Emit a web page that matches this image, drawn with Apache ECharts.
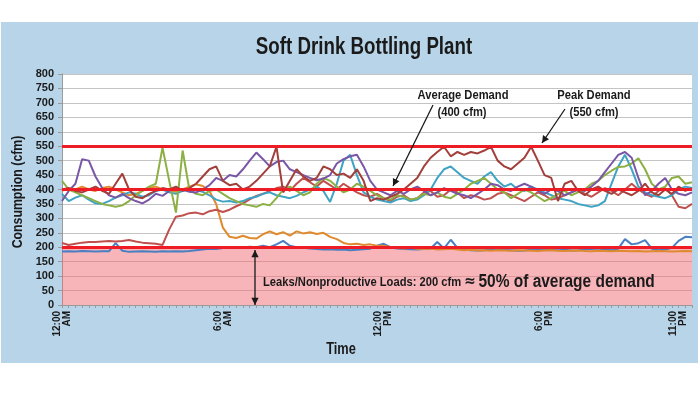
<!DOCTYPE html>
<html><head><meta charset="utf-8">
<script src="https://cdn.jsdelivr.net/npm/echarts@6/dist/echarts.min.js"></script>
<style>html,body{margin:0;padding:0;background:#fff}#c{width:700px;height:394px}</style>
</head><body><div id="c"></div>
<script>
// ---- data (15-minute readings, 12:00 AM .. 11:30 PM) ----
const tickIndex = [0, 24, 48, 72, 92];
const tickText = ['12:00\nAM', '6:00\nAM', '12:00\nPM', '6:00\nPM', '11:00\nPM'];
const yTicks = [0, 50, 100, 150, 200, 250, 300, 350, 400, 450, 500, 550, 600, 650, 700, 750, 800];
const refLevels = [200, 400, 550];

const blueLow = [185,186,185,187,186,185,186,186,214,188,
 184,185,186,185,184,186,185,186,185,187,
 190,192,195,194,197,198,200,198,202,200,
 205,200,210,222,205,200,
 198,196,194,192,193,191,192,190,191,193,195,205,
 212,200,196,194,193,192,194,196,
 218,196,226,198,
 192,190,189,190,192,194,191,190,188,189,191,193,195,192,190,191,189,190,192,194,196,192,190,195,
 228,210,214,225,195,190,192,198,222,236,235];
const orange = [395,405,400,410,400,395,405,410,400,390,
 380,385,395,405,410,400,398,392,400,410,
 418,412,395,350,
 268,236,232,240,232,230,
 245,255,245,252,240,255,248,252,246,250,
 236,228,215,210,212,208,210,205,
 205,200,198,196,198,195,194,196,192,193,195,192,
 190,191,189,190,188,190,189,188,190,189,188,187,189,190,188,187,188,189,187,186,188,187,186,188,187,186,187,185,186,187,186,185,186,187,186];
const redRising = [215,208,212,216,218,218,220,222,220,222,225,220,216,214,212,208,
 262,306,310,318,320,314,325,330,322,
 330,342,352,366,378,385,395,
 405,410,395,420,440,425,410,430,415,400,420,405,390,380,375,385,
 370,360,375,380,365,370,390,395,375,380,400,390,370,
 380,375,365,370,385,390,380,370,360,375,390,380,365,370,380,
 390,400,385,375,390,405,395,380,400,420,400,385,375,395,405,380,340,335,350];
const brown = [400,405,395,390,400,410,395,385,420,455,
 400,375,370,385,395,405,
 400,410,395,405,420,445,470,480,
 430,415,420,400,410,430,455,480,
 548,390,430,470,
 445,430,440,480,470,450,455,440,470,430,360,370,
 365,375,385,400,420,440,480,510,530,548,515,530,
 520,530,525,535,548,500,480,470,490,510,548,500,
 450,440,360,420,430,395,380,400,410,395,385,400,
 390,380,395,420,390,380,400,385,410,395,405];
const purple = [360,395,420,505,500,445,405,380,372,385,
 370,360,352,365,385,378,395,405,400,392,
 390,400,415,440,430,450,445,470,500,528,
 505,480,495,500,470,460,450,440,432,438,
 450,490,505,515,520,480,430,400,
 390,380,395,385,400,410,395,380,390,405,395,385,
 380,370,385,400,420,415,400,395,410,420,410,395,385,
 400,395,380,390,400,395,410,430,
 460,490,520,530,510,440,380,395,420,440,400,385,380,390];
const green = [430,400,390,380,370,360,350,345,340,345,
 360,380,395,410,420,
 545,430,320,535,400,
 385,380,395,400,385,
 370,360,350,345,340,350,345,370,400,410,395,
 380,390,420,440,430,410,390,400,420,410,395,380,
 370,365,380,375,365,370,385,380,390,375,370,385,
 400,420,430,440,420,400,390,370,385,400,390,375,360,
 370,385,395,380,390,400,420,430,450,465,478,480,490,508,470,420,400,410,440,445,420,425];
const teal = [385,360,372,380,365,352,350,360,372,380,
 390,385,375,380,395,400,390,385,395,400,
 398,392,380,365,358,360,355,360,370,375,
 385,390,380,375,370,378,390,400,410,395,
 357,420,500,520,450,390,375,365,
 360,355,365,370,360,365,380,400,
 440,470,480,460,440,430,420,445,460,430,
 410,420,400,395,410,400,390,380,370,365,360,350,345,340,
 345,360,420,480,520,470,410,390,380,375,370,380,400,410,405];

const seriesList = [
  {name: 'Blue', data: blueLow, color: '#4a7fc1'},
  {name: 'Orange', data: orange, color: '#df8a2e'},
  {name: 'Red', data: redRising, color: '#c0504d'},
  {name: 'Teal', data: teal, color: '#3fa3c3'},
  {name: 'Green', data: green, color: '#8cb043'},
  {name: 'Purple', data: purple, color: '#7a57a6'},
  {name: 'Brown', data: brown, color: '#a23f3b'}
];

// category labels (time of day)
const categories = [];
for (let i = 0; i < blueLow.length; i++) {
  const mins = i * 15, h = Math.floor(mins / 60), m = mins % 60;
  const h12 = (h % 12 === 0) ? 12 : h % 12;
  categories.push(h12 + ':' + (m < 10 ? '0' : '') + m + (h < 12 ? ' AM' : ' PM'));
}

const FONT = "'Liberation Sans',Arial,sans-serif";
const TXT = '#1a1a1a';

function arrowHead(x, y, ang, size) {
  const a1 = ang + Math.PI * 0.85, a2 = ang - Math.PI * 0.85;
  return {type: 'polygon', silent: true, z: 20,
    shape: {points: [[x, y], [x + size * Math.cos(a1), y + size * Math.sin(a1)], [x + size * Math.cos(a2), y + size * Math.sin(a2)]]},
    style: {fill: TXT}};
}
function arrow(x1, y1, x2, y2, both) {
  const ang = Math.atan2(y2 - y1, x2 - x1);
  const els = [{type: 'line', silent: true, z: 20, shape: {x1, y1, x2, y2}, style: {stroke: TXT, lineWidth: 1.3}},
    arrowHead(x2, y2, ang, 8)];
  if (both) els.push(arrowHead(x1, y1, ang + Math.PI, 8));
  return els;
}
function label(x, y, text, size, sx, align, rot) {
  return {type: 'text', z: 20, silent: true, x: x, y: y, scaleX: sx, rotation: rot || 0,
    style: {x: 0, y: 0, text: text, textAlign: align || 'center', textVerticalAlign: 'middle',
      font: 'bold ' + size + 'px ' + FONT, fill: TXT}};
}

const chart = echarts.init(document.getElementById('c'), null, {renderer: 'canvas'});
const series = [
  {type: 'line', data: [], z: 1, silent: true,
   markArea: {silent: true, itemStyle: {color: 'rgba(240,108,118,0.5)'}, data: [[{yAxis: 0}, {yAxis: 200}]]}}
].concat(seriesList.map(s => ({
  type: 'line', name: s.name, data: s.data, showSymbol: false, symbol: 'none', z: 2,
  lineStyle: {width: 2, color: s.color}, itemStyle: {color: s.color}, silent: true
}))).concat([
  {type: 'line', data: [], z: 5, silent: true,
   markLine: {silent: true, symbol: ['none', 'none'], label: {show: false},
     lineStyle: {type: 'solid', width: 3, color: '#ee1c25'},
     data: refLevels.map(v => ({yAxis: v}))}}
]);

chart.setOption({
  animation: false,
  backgroundColor: '#fff',
  grid: {left: 62, right: 8, top: 74, bottom: 89, show: true, backgroundColor: '#fff', borderWidth: 0},
  xAxis: {
    type: 'category', data: categories, boundaryGap: false,
    axisLine: {lineStyle: {color: '#9a9a9a'}},
    axisTick: {show: true, interval: 0, length: 3, lineStyle: {color: '#9a9a9a'}},
    axisLabel: {
      rotate: 90, margin: 6, fontFamily: FONT, fontWeight: 'bold', fontSize: 10, lineHeight: 10, color: TXT,
      interval: (idx) => tickIndex.indexOf(idx) >= 0,
      formatter: (v, idx) => { const k = tickIndex.indexOf(idx); return k >= 0 ? tickText[k] : ''; }
    },
    splitLine: {show: false}
  },
  yAxis: {
    type: 'value', min: yTicks[0], max: yTicks[yTicks.length - 1], interval: 50,
    axisLine: {show: true, lineStyle: {color: '#9a9a9a'}},
    axisTick: {show: true, length: 4, lineStyle: {color: '#9a9a9a'}},
    axisLabel: {fontFamily: FONT, fontWeight: 'bold', fontSize: 11, color: TXT, margin: 8},
    splitLine: {show: true, lineStyle: {color: '#c4c4c4', width: 1}}
  },
  series: series,
  graphic: [
    {type: 'rect', z: -10, silent: true, shape: {x: 1, y: 22, width: 697, height: 341}, style: {fill: '#b7d4e9'}},
    label(364, 47, 'Soft Drink Bottling Plant', 24, 0.78),
    label(18, 192, 'Consumption (cfm)', 15, 0.82, 'center', Math.PI / 2),
    label(341, 350, 'Time', 16, 0.8),
    label(463, 95, 'Average Demand', 13, 0.86),
    label(462, 112, '(400 cfm)', 13, 0.86),
    label(594, 95, 'Peak Demand', 13, 0.86),
    label(594, 112, '(550 cfm)', 13, 0.86),
    {type: 'text', z: 20, silent: true, x: 263, y: 282, scaleX: 0.86,
     style: {x: 0, y: 0, textVerticalAlign: 'middle',
      text: '{a|Leaks/Nonproductive Loads: 200 cfm} {b|≈} {c|50% of average demand}',
      rich: {a: {font: "bold 13px " + FONT, fill: TXT}, b: {font: "bold 16px 'DejaVu Sans',sans-serif", fill: TXT},
             c: {font: "bold 18px " + FONT, fill: TXT}}}}
  ].concat(arrow(433, 105, 393, 186)).concat(arrow(565, 109, 542, 143)).concat(arrow(255, 250, 255, 305, true))
});
</script></body></html>
